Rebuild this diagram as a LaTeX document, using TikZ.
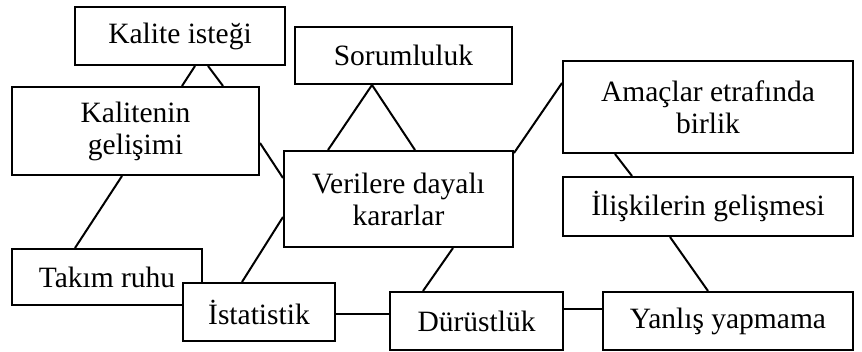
\documentclass[tikz,border=0pt]{standalone}
\usepackage{fontspec}
\setmainfont{Liberation Serif}
\begin{document}
\begin{tikzpicture}[x=1pt,y=-1pt,
  box/.style={draw, fill=white, line width=2pt, inner sep=0pt, align=center,
    font=\fontsize{29.5}{32}\selectfont},
  link/.style={line width=2pt}]
\useasboundingbox (0,0) rectangle (862,352);

% concept boxes
\node[box, minimum width=210pt, minimum height=58pt] (kalite)   at (180,36)    {Kalite isteği};
\node[box, minimum width=247pt, minimum height=88pt] (gelisim)  at (135.5,131) {Kalitenin\\gelişimi};
\node[box, minimum width=217pt, minimum height=57pt] (sorum)    at (403.5,55.5) {Sorumluluk};
\node[box, minimum width=229pt, minimum height=96pt] (veri)     at (398.5,199) {Verilere dayalı\\kararlar};
\node[box, minimum width=290pt, minimum height=92pt] (amac)     at (708,107)   {Amaçlar etrafında\\birlik};
\node[box, minimum width=290pt, minimum height=59pt] (iliski)   at (708,206.5) {İlişkilerin gelişmesi};
\node[box, minimum width=190pt, minimum height=56pt] (takim)    at (107,277)   {Takım ruhu};
\node[box, minimum width=152pt, minimum height=58pt] (istat)    at (259,312)   {İstatistik};
\node[box, minimum width=173pt, minimum height=58pt] (durust)   at (476.5,321) {Dürüstlük};
\node[box, minimum width=250pt, minimum height=58pt] (yanlis)   at (728,321)   {Yanlış yapmama};

% connectors
\draw[link] ([xshift=15pt]kalite.south) -- ([xshift=46.5pt]gelisim.north);
\draw[link] ([xshift=28pt]kalite.south) -- ([xshift=87.5pt]gelisim.north);
\draw[link] ([xshift=-31.5pt]sorum.south) -- ([xshift=-70.5pt]veri.north);
\draw[link] ([xshift=-31.5pt]sorum.south) -- ([xshift=16.5pt]veri.north);
\draw[link] ([yshift=-12pt]gelisim.east) -- ([yshift=21pt]veri.west);
\draw[link] ([yshift=-3pt]veri.north east) -- ([yshift=24pt]amac.west);
\draw[link] ([xshift=-93pt]amac.south) -- ([xshift=-76pt]iliski.north);
\draw[link] ([xshift=-38pt]iliski.south) -- ([xshift=-20pt]yanlis.north);
\draw[link] ([xshift=-13.5pt]gelisim.south) -- ([xshift=-32pt]takim.north);
\draw[link] ([xshift=-17pt]istat.north) -- ([yshift=-18pt]veri.west);
\draw[link] ([xshift=54.5pt]veri.south) -- ([xshift=-53.5pt]durust.north);
\draw[link] ([yshift=-2pt]istat.east) -- ([yshift=7pt]durust.west);
\draw[link] ([yshift=12pt]durust.east) -- ([yshift=12pt]yanlis.west);
\end{tikzpicture}
\end{document}
